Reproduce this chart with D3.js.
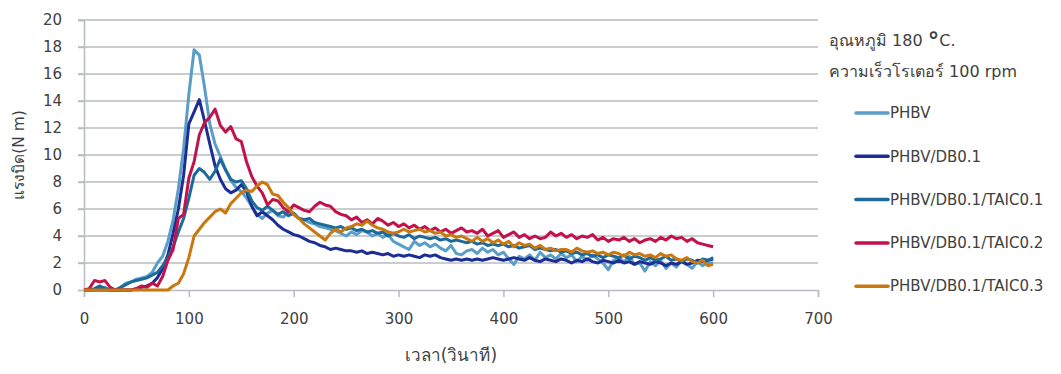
<!DOCTYPE html>
<html>
<head>
<meta charset="utf-8">
<script src="https://cdn.jsdelivr.net/npm/d3@7"></script>
<style>
  body { margin: 0; background: #fff; }
  text { font-family: "DejaVu Sans", "Noto Sans", sans-serif; fill: #404040; }
</style>
</head>
<body>
<svg width="1061" height="374"></svg>
<script>
// sample times (s)
var times = [
  0, 5, 10, 15, 20, 25, 30, 35, 40, 45, 50, 55, 60, 65, 70, 75, 80, 85, 90, 95,
  100, 105, 110, 115, 120, 125, 130, 135, 140, 145, 150, 155, 160, 165, 170, 175, 180, 185, 190, 195,
  200, 205, 210, 215, 220, 225, 230, 235, 240, 245, 250, 255, 260, 265, 270, 275, 280, 285, 290, 295,
  300, 305, 310, 315, 320, 325, 330, 335, 340, 345, 350, 355, 360, 365, 370, 375, 380, 385, 390, 395,
  400, 405, 410, 415, 420, 425, 430, 435, 440, 445, 450, 455, 460, 465, 470, 475, 480, 485, 490, 495,
  500, 505, 510, 515, 520, 525, 530, 535, 540, 545, 550, 555, 560, 565, 570, 575, 580, 585, 590, 595,
  600
];

var phbv = [
  0, 0, 0, 0.1, 0.2, 0, 0, 0.2, 0.5, 0.6, 0.8, 0.9, 1.0, 1.3, 2.0, 2.5, 3.6, 5.2, 7.5, 10.5,
  14.5, 17.8, 17.4, 15.0, 12.3, 10.8, 9.9, 8.9, 8.1, 7.6, 7.3, 6.8, 6.2, 5.6, 5.3, 5.7, 5.9, 5.5, 5.4, 5.8,
  5.6, 5.3, 5.2, 5.0, 4.9, 4.7, 4.6, 4.5, 4.4, 4.2, 4.0, 4.3, 4.1, 4.4, 4.3, 4.0, 4.2, 3.9, 4.1, 3.6,
  3.4, 3.2, 3.0, 3.6, 3.3, 3.5, 3.2, 3.4, 3.1, 2.9, 3.3, 2.7, 2.6, 2.9, 3.0, 2.7, 3.1, 2.8, 3.0, 2.6,
  2.8, 2.3, 1.9, 2.5, 2.3, 2.6, 2.2, 2.8, 2.4, 2.6, 2.3, 2.7, 2.4, 2.6, 2.1, 2.5, 2.2, 2.6, 2.3, 2.0,
  1.5, 2.2, 2.4, 2.1, 2.5, 1.9, 2.0, 1.4, 2.1, 1.8, 2.2, 1.6, 2.0, 1.7, 2.2, 1.9, 1.6, 2.1, 1.8, 2.0,
  2.0
];

var db01 = [
  0, 0, 0, 0, 0, 0, 0, 0, 0, 0, 0.1, 0.2, 0.3, 0.5, 0.9, 1.6, 2.6, 4.2, 6.0, 8.5,
  12.3, 13.2, 14.1, 12.5, 10.8, 9.2, 8.2, 7.5, 7.2, 7.4, 7.8, 7.3, 6.2, 5.5, 5.8, 5.5, 5.2, 4.8, 4.5, 4.3,
  4.1, 4.0, 3.8, 3.6, 3.5, 3.3, 3.2, 3.0, 3.1, 3.0, 2.9, 2.9, 2.8, 2.9, 2.7, 2.8, 2.7, 2.6, 2.7, 2.5,
  2.6, 2.5, 2.6, 2.5, 2.4, 2.6, 2.5, 2.6, 2.4, 2.3, 2.2, 2.3, 2.2, 2.3, 2.2, 2.3, 2.2, 2.3, 2.4, 2.3,
  2.2, 2.3, 2.4, 2.3, 2.2, 2.4, 2.2, 2.1, 2.3, 2.2, 2.1, 2.3, 2.2, 2.0, 2.2, 2.1, 2.3, 2.1, 2.0, 2.2,
  2.1, 2.0, 2.2, 2.0, 2.1, 1.9, 2.1, 2.0, 1.9, 2.1, 2.0, 1.8, 2.0, 1.9, 2.1, 1.9, 2.0, 2.2, 2.1, 2.2,
  2.3
];

var taic01 = [
  0, 0, 0.1, 0.3, 0.1, 0, 0, 0.2, 0.4, 0.6, 0.7, 0.8, 0.9, 1.1, 1.3, 1.8, 2.4, 3.2, 4.3, 5.3,
  6.8, 8.5, 9.0, 8.7, 8.2, 8.8, 9.7, 8.9, 8.2, 8.0, 8.1, 7.5, 6.6, 6.1, 5.9, 6.2, 5.9, 5.6, 5.8, 5.5,
  5.7, 5.3, 5.2, 5.3, 5.0, 4.9, 4.8, 4.7, 4.6, 4.7, 4.5, 4.6, 4.4, 4.5, 4.3, 4.4, 4.2, 4.3, 4.0, 4.2,
  4.0, 3.9, 4.1, 3.8, 4.0, 3.9, 3.8, 3.9, 3.7, 3.8, 3.6, 3.7, 3.6, 3.5, 3.6, 3.4, 3.5, 3.3, 3.4, 3.3,
  3.4, 3.2, 3.3, 3.1, 3.2, 3.3, 3.0, 3.1, 3.0, 2.9, 3.0, 2.8, 2.9, 2.7, 2.8, 2.6, 2.7, 2.5, 2.6, 2.4,
  2.6, 2.5, 2.4, 2.6, 2.3, 2.5, 2.4, 2.2, 2.4, 2.2, 2.3, 2.5, 2.2, 2.3, 2.1, 2.3, 2.2, 2.0, 2.3, 2.2,
  2.4
];

var taic02 = [
  0, 0.1, 0.7, 0.6, 0.7, 0.2, 0, 0, 0, 0, 0.1, 0.3, 0.2, 0.5, 0.3, 1.0, 2.2, 3.0, 5.3, 5.6,
  8.3, 9.5, 11.5, 12.4, 12.8, 13.4, 12.2, 11.7, 12.1, 11.2, 11.0, 9.5, 8.4, 7.7, 7.2, 6.3, 6.7, 6.6, 6.1, 5.8,
  6.3, 6.1, 5.9, 5.8, 6.2, 6.5, 6.3, 6.2, 5.8, 5.6, 5.5, 5.2, 5.4, 5.0, 5.2, 4.9, 5.3, 5.1, 4.8, 5.0,
  4.7, 4.9, 4.6, 4.8, 4.5, 4.7, 4.4, 4.6, 4.3, 4.5, 4.2, 4.4, 4.6, 4.3, 4.4, 4.2, 4.5, 4.0, 4.2, 4.4,
  3.9, 4.1, 4.3, 3.9, 4.1, 3.8, 4.0, 3.8, 3.9, 4.3, 4.0, 4.2, 3.9, 4.1, 3.8, 4.0, 3.9, 4.1, 3.7, 3.9,
  3.6, 3.8, 3.7, 3.9, 3.6, 3.8, 3.5, 3.7, 3.8, 3.6, 3.9, 3.7, 4.0, 3.8, 3.9, 3.6, 3.8, 3.5, 3.4, 3.3,
  3.2
];

var taic03 = [
  0, 0, 0, 0, 0, 0, 0, 0, 0, 0, 0, 0, 0, 0, 0, 0, 0, 0.3, 0.5, 1.2,
  2.4, 4.0, 4.5, 5.0, 5.4, 5.8, 6.0, 5.7, 6.4, 6.8, 7.2, 7.4, 7.3, 7.7, 8.0, 7.8, 7.1, 7.0, 6.5, 6.1,
  5.6, 5.3, 4.9, 4.6, 4.3, 4.0, 3.7, 4.2, 4.5, 4.3, 4.6, 4.7, 4.9, 4.8, 5.1, 4.8, 4.6, 4.5, 4.3, 4.2,
  4.3, 4.5, 4.3, 4.4, 4.5, 4.3, 4.4, 4.2, 4.3, 4.0, 4.1, 3.9, 4.0, 3.8, 3.6, 3.9, 3.6, 3.8, 3.5, 3.7,
  3.4, 3.6, 3.2, 3.5, 3.3, 3.4, 3.1, 3.3, 3.0, 3.1, 2.9, 3.0, 3.0, 2.8, 3.1, 2.9, 2.8, 2.9, 2.7, 2.8,
  2.6, 2.8, 2.7, 2.5, 2.8, 2.6, 2.7, 2.5, 2.6, 2.4, 2.7, 2.5, 2.6, 2.3, 2.2, 2.4, 2.1, 2.0, 2.2, 1.8,
  1.9
];

var seriesNames = ["PHBV", "PHBV/DB0.1", "PHBV/DB0.1/TAIC0.1", "PHBV/DB0.1/TAIC0.2", "PHBV/DB0.1/TAIC0.3"];
var seriesValues = [phbv, db01, taic01, taic02, taic03];
var colors = ["#5a9ec8", "#1c2d94", "#1b6a9b", "#c2124a", "#c97810"];

var xTicks = [0, 100, 200, 300, 400, 500, 600, 700];
var yTicks = [0, 2, 4, 6, 8, 10, 12, 14, 16, 18, 20];

var svg = d3.select("svg");

var margin = { top: 20, left: 84, right: 243, bottom: 84 };
var width = 1061 - margin.left - margin.right,   // 734
    height = 374 - margin.top - margin.bottom;    // 270

var x = d3.scaleLinear().domain([0, 700]).range([0, width]);
var y = d3.scaleLinear().domain([0, 20]).range([height, 0]);

var g = svg.append("g")
    .attr("transform", "translate(" + margin.left + "," + margin.top + ")");

// horizontal gridlines (with the little left tick)
g.selectAll(".grid")
    .data(yTicks.filter(d => d > 0))
    .enter().append("line")
    .attr("x1", -6)
    .attr("x2", width)
    .attr("y1", d => y(d))
    .attr("y2", d => y(d))
    .attr("stroke", "#b8bcc0")
    .attr("stroke-width", 1.5);

// y axis
var yAxis = g.append("g")
    .call(d3.axisLeft(y).tickValues(yTicks).tickSize(6).tickPadding(16));
yAxis.selectAll("line").attr("stroke", "#b8bcc0").attr("stroke-width", 1.5);
yAxis.select(".domain").attr("stroke", "#b8bcc0").attr("stroke-width", 1.5);
yAxis.selectAll("text").style("font-size", "15px").attr("fill", "#404040");

// x axis
var xAxis = g.append("g")
    .attr("transform", "translate(0," + height + ")")
    .call(d3.axisBottom(x).tickValues(xTicks).tickSize(7).tickPadding(16));
xAxis.selectAll("line").attr("stroke", "#b8bcc0").attr("stroke-width", 1.5);
xAxis.select(".domain").attr("stroke", "#b8bcc0").attr("stroke-width", 1.5);
xAxis.selectAll("text").style("font-size", "15px").attr("fill", "#404040");

// axis titles
svg.append("text")
    .attr("transform", "translate(24," + (margin.top + height / 2) + ") rotate(-90)")
    .attr("text-anchor", "middle")
    .style("font-size", "15.5px")
    .text("แรงบิด(N m)");

svg.append("text")
    .attr("x", margin.left + width / 2)
    .attr("y", 361)
    .attr("text-anchor", "middle")
    .style("font-size", "17px")
    .text("เวลา(วินาที)");

// lines
var line = d3.line()
    .x((d, i) => x(times[i]))
    .y(d => y(d));

seriesValues.forEach(function (vals, k) {
    g.append("path")
        .datum(vals)
        .attr("fill", "none")
        .attr("stroke", colors[k])
        .attr("stroke-width", 3)
        .attr("stroke-linejoin", "round")
        .attr("d", line);
});

// conditions note
var note = svg.append("text")
    .attr("x", 829)
    .attr("y", 46)
    .style("font-size", "16px");
note.append("tspan").text("อุณหภูมิ 180 ");
note.append("tspan").style("font-size", "23px").style("font-weight", "bold").attr("dy", 3).text("°");
note.append("tspan").attr("dy", -3).text("C.");

svg.append("text")
    .attr("x", 829)
    .attr("y", 77)
    .style("font-size", "16px")
    .text("ความเร็วโรเตอร์ 100 rpm");

// legend
var legend = svg.append("g").attr("transform", "translate(856,113)");
seriesNames.forEach(function (name, k) {
    var row = legend.append("g").attr("transform", "translate(0," + (k * 43.3) + ")");
    row.append("line")
        .attr("x1", 0).attr("x2", 32)
        .attr("stroke", colors[k])
        .attr("stroke-width", 3.5)
        .attr("stroke-linecap", "round");
    row.append("text")
        .attr("x", 34)
        .attr("dy", "0.35em")
        .style("font-size", "15px")
        .text(name);
});
</script>
</body>
</html>
